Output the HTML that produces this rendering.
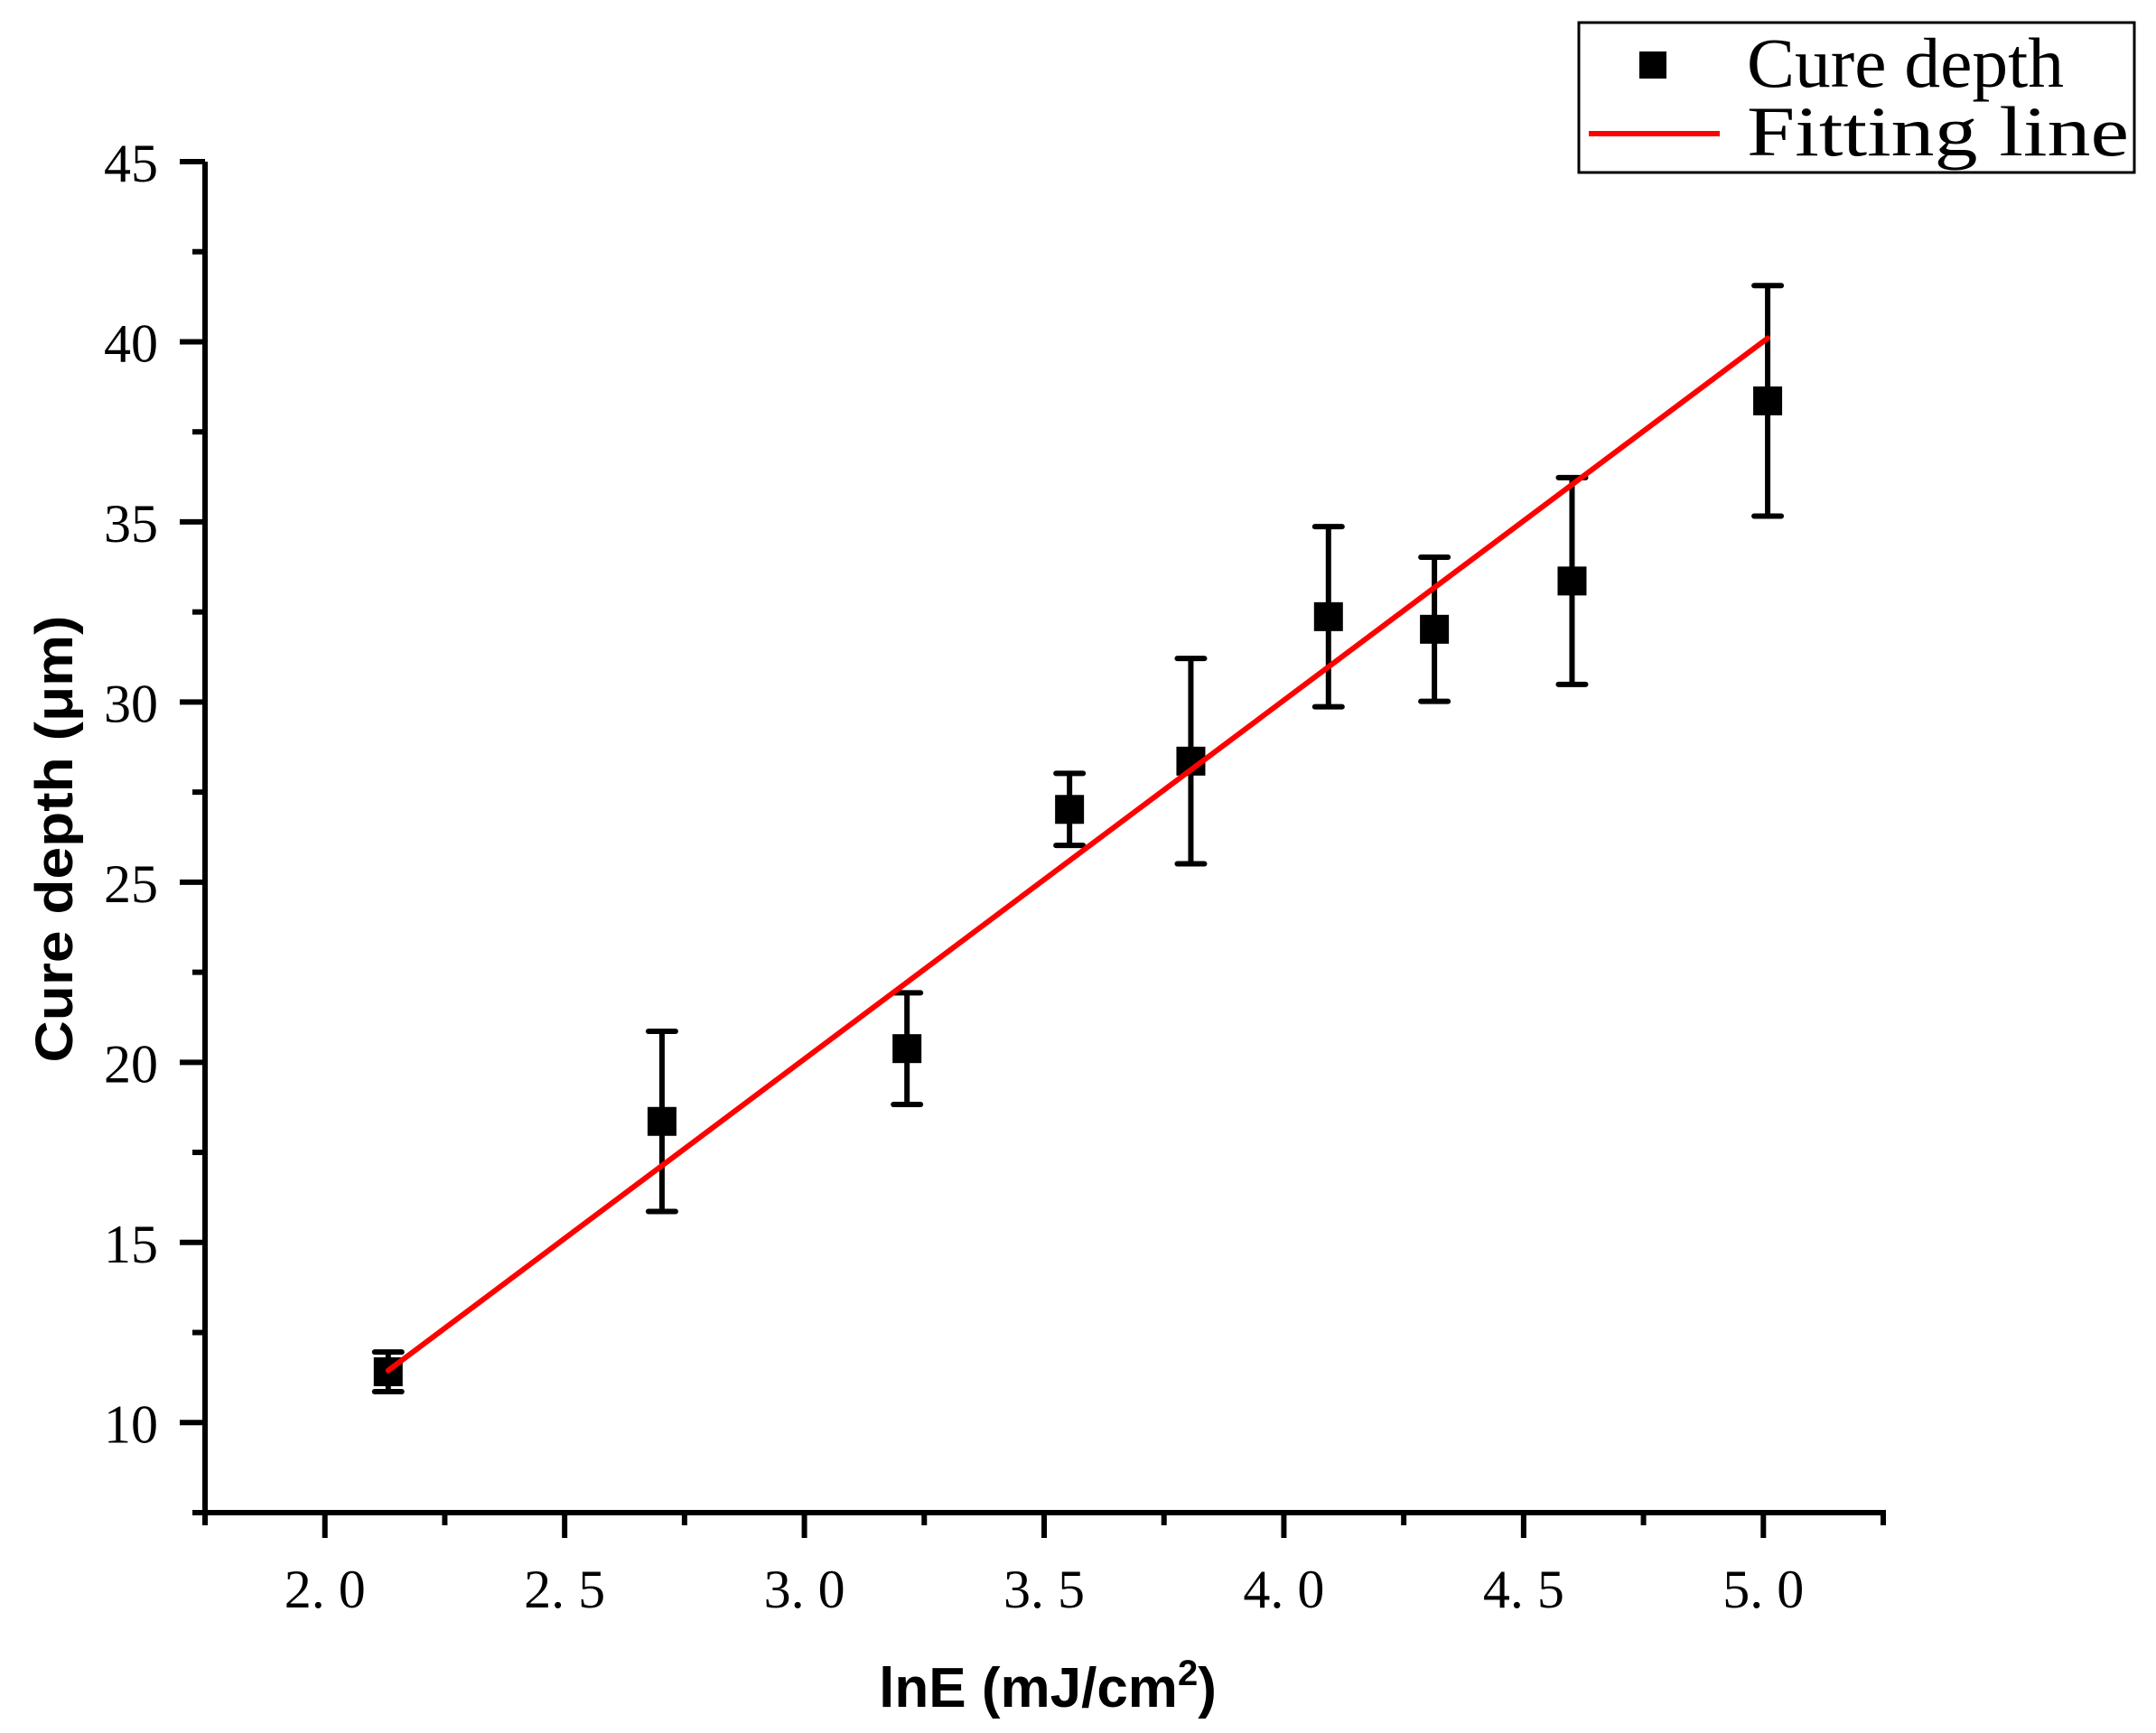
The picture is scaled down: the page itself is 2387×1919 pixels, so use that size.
<!DOCTYPE html>
<html><head><meta charset="utf-8"><style>
html,body{margin:0;padding:0;background:#fff;}
svg{display:block;}
</style></head><body>
<svg id="chart" width="2387" height="1919" viewBox="0 0 2387 1919" xmlns="http://www.w3.org/2000/svg">
<rect width="2387" height="1919" fill="#fff"/>
<g id="axes"></g>
<g id="fit"></g>
<g id="points"></g>
<text transform="translate(80,929) rotate(-90)" text-anchor="middle" font-family="Liberation Sans, sans-serif" font-weight="bold" font-size="58" textLength="495" lengthAdjust="spacingAndGlyphs">Cure depth (μm)</text>
<text x="1160" y="1890" text-anchor="middle" font-family="Liberation Sans, sans-serif" font-weight="bold" font-size="62">lnE (mJ/cm<tspan dy="-24" font-size="40">2</tspan><tspan dy="24">)</tspan></text>
<g>
<rect x="1748" y="25" width="615" height="166" fill="#fff" stroke="#000" stroke-width="3"/>
<rect x="1815" y="57" width="30" height="30" fill="#000"/>
<text x="1934" y="96" font-family="Liberation Serif, serif" font-size="78" textLength="351" lengthAdjust="spacingAndGlyphs">Cure depth</text>
<line x1="1759" y1="148" x2="1904" y2="148" stroke="#f00" stroke-width="6"/>
<text x="1934" y="172" font-family="Liberation Serif, serif" font-size="78" textLength="423" lengthAdjust="spacingAndGlyphs">Fitting line</text>
</g>
</svg>
<script>
const xValues = [2.132, 2.703, 3.214, 3.553, 3.806, 4.093, 4.314, 4.601, 5.009];
const yValues = [11.41, 18.36, 20.38, 27.02, 28.36, 32.37, 32.02, 33.36, 38.36];
const yErrors = [0.55, 2.5, 1.55, 1.0, 2.85, 2.5, 2.0, 2.87, 3.2];
const fitParams = [9.96, -9.79];
const xTicks = [2.0, 2.5, 3.0, 3.5, 4.0, 4.5, 5.0];
const xTickLabels = ["2. 0", "2. 5", "3. 0", "3. 5", "4. 0", "4. 5", "5. 0"];
const yTicks = [10, 15, 20, 25, 30, 35, 40, 45];
const yTickLabels = ["10", "15", "20", "25", "30", "35", "40", "45"];

const NS = "http://www.w3.org/2000/svg";
const X0 = 1.75, X1 = 5.25, PX0 = 227, PX1 = 2085;
const Y0 = 7.5, Y1 = 45, PY0 = 1675, PY1 = 179;
const SW = 6;
function sx(v){ return PX0 + (v - X0) / (X1 - X0) * (PX1 - PX0); }
function sy(v){ return PY0 - (v - Y0) / (Y1 - Y0) * (PY0 - PY1); }
function mk(tag, attrs, parent){
  const e = document.createElementNS(NS, tag);
  for (const k in attrs) e.setAttribute(k, attrs[k]);
  parent.appendChild(e);
  return e;
}
const axes = document.getElementById('axes');
let e;
e = mk('line', {x1: PX0, y1: PY1, x2: PX0, y2: PY0 + 3, stroke: '#000', 'stroke-width': SW}, axes);


e = mk('line', {x1: 213, y1: PY0, x2: PX1 + 3, y2: PY0, stroke: '#000', 'stroke-width': SW}, axes);


e = mk('line', {x1: PX1, y1: PY0, x2: PX1, y2: PY0 + 14, stroke: '#000', 'stroke-width': SW}, axes);



xTicks.forEach((t, i) => {
  const x = sx(t);
  let tk = mk('line', {x1: x, y1: PY0, x2: x, y2: PY0 + 28, stroke: '#000', 'stroke-width': SW}, axes);
  
  
  const m = sx(t - 0.25);
  let mt = mk('line', {x1: m, y1: PY0, x2: m, y2: PY0 + 14, stroke: '#000', 'stroke-width': SW}, axes);
  
  
  let lb = mk('text', {x: x, y: 1780, 'text-anchor': 'middle', 'font-family': 'Liberation Serif, serif', 'font-size': 60}, axes);
  lb.setAttribute('xml:space', 'preserve');
  lb.textContent = xTickLabels[i];
  
  
});
yTicks.forEach((t, i) => {
  const y = sy(t);
  let tk = mk('line', {x1: PX0 - 28, y1: y, x2: PX0, y2: y, stroke: '#000', 'stroke-width': SW}, axes);
  
  
  const m = sy(t - 2.5);
  let mt = mk('line', {x1: PX0 - 14, y1: m, x2: PX0, y2: m, stroke: '#000', 'stroke-width': SW}, axes);
  
  
  let lb = mk('text', {x: 175, y: y + 22, 'text-anchor': 'end', 'font-family': 'Liberation Serif, serif', 'font-size': 60}, axes);
  lb.textContent = yTickLabels[i];
  
  
});

const pts = document.getElementById('points');
xValues.forEach((xv, i) => {
  const x = sx(xv), y = sy(yValues[i]);
  const yt = sy(yValues[i] + yErrors[i]), yb = sy(yValues[i] - yErrors[i]);
  const g = mk('g', {}, pts);
  
  
  let l = mk('line', {x1: x, y1: yt, x2: x, y2: yb, stroke: '#000', 'stroke-width': SW}, g);
  
  
  let c1 = mk('line', {x1: x - 15, y1: yt, x2: x + 15, y2: yt, stroke: '#000', 'stroke-width': SW, 'stroke-linecap': 'round'}, g);
  
  
  let c2 = mk('line', {x1: x - 15, y1: yb, x2: x + 15, y2: yb, stroke: '#000', 'stroke-width': SW, 'stroke-linecap': 'round'}, g);
  
  
  let r = mk('rect', {x: x - 16, y: y - 16, width: 32, height: 32, fill: '#000'}, g);
  
  
});

const fit = document.getElementById('fit');
const xa = Math.min(...xValues), xb = Math.max(...xValues);
let fl = mk('line', {x1: sx(xa), y1: sy(fitParams[0] * xa + fitParams[1]), x2: sx(xb), y2: sy(fitParams[0] * xb + fitParams[1]), stroke: '#f00', 'stroke-width': 6, 'stroke-linecap': 'round'}, fit);


pts.parentNode.appendChild(fit);
</script>
</body></html>
